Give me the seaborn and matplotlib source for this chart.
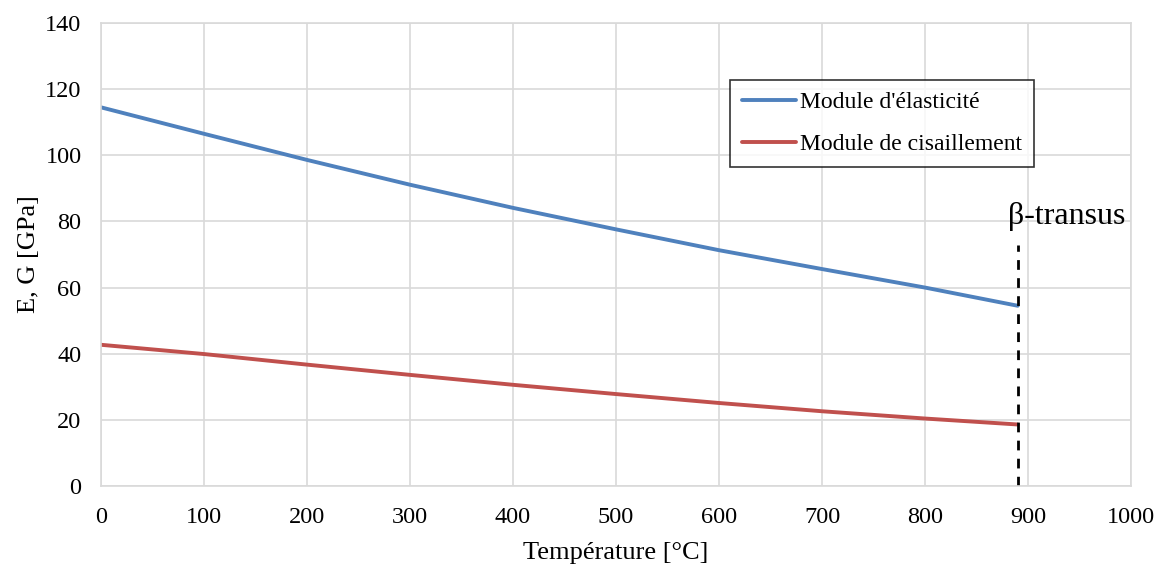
import pandas as pd
import matplotlib.pyplot as plt
import seaborn as sns


# values
temperature = [0, 100, 200, 300, 400, 500, 600, 700, 800, 890]
young_modulus = [114.5, 106.5, 98.6, 91.1, 84.1, 77.6, 71.3, 65.6, 60.0, 54.5]
shear_modulus = [42.7, 39.9, 36.7, 33.6, 30.6, 27.8, 25.1, 22.6, 20.4, 18.6]
beta_transus = 890
beta_line_top = 73
x_ticks = [0, 100, 200, 300, 400, 500, 600, 700, 800, 900, 1000]
y_ticks = [0, 20, 40, 60, 80, 100, 120, 140]


df = pd.DataFrame({
    "T": temperature * 2,
    "val": young_modulus + shear_modulus,
    "serie": ["Module d'élasticité"] * len(temperature)
             + ["Module de cisaillement"] * len(temperature),
})

sns.set_style("white")
plt.rcParams["font.family"] = ["Liberation Serif", "DejaVu Serif"]
plt.rcParams["text.color"] = "black"
plt.rcParams["axes.labelcolor"] = "black"
plt.rcParams["xtick.color"] = "black"
plt.rcParams["ytick.color"] = "black"

fig = plt.figure(figsize=(11.56, 5.64), dpi=100)
ax = fig.add_axes([0.0874, 0.1383, 0.891, 0.8209])

sns.lineplot(
    data=df, x="T", y="val", hue="serie", ax=ax,
    palette=["#4f81bd", "#c0504d"], linewidth=2.8,
)

# beta-transus marker
ax.plot([beta_transus, beta_transus], [0, beta_line_top],
        color="black", linestyle=(0, (3.5, 3)), linewidth=2)
ax.text(beta_transus + 48, beta_line_top + 4, "β-transus",
        ha="center", va="bottom", fontsize=23)

ax.set_xlim(0, 1000)
ax.set_ylim(0, 140)
ax.set_xticks(x_ticks)
ax.set_yticks(y_ticks)
ax.grid(True, color="#d9d9d9", linewidth=1.2)
for s in ax.spines.values():
    s.set_color("#d9d9d9")
    s.set_linewidth(1.2)
ax.tick_params(labelsize=17.5, length=0)
ax.tick_params(axis="y", pad=14)
ax.tick_params(axis="x", pad=15)
ax.set_xlabel("Température [°C]", fontsize=19, labelpad=10)
ax.set_ylabel("E, G [GPa]", fontsize=19, labelpad=4)

leg = ax.legend(
    loc="upper left", bbox_to_anchor=(0.611, 0.877), borderaxespad=0,
    fontsize=17, frameon=True, fancybox=False, handlelength=2.3,
    handletextpad=0.15, borderpad=0.5, labelspacing=0.85,
)
leg.get_frame().set_edgecolor("black")
leg.get_frame().set_linewidth(1.2)

plt.savefig("out.png", dpi=100)
